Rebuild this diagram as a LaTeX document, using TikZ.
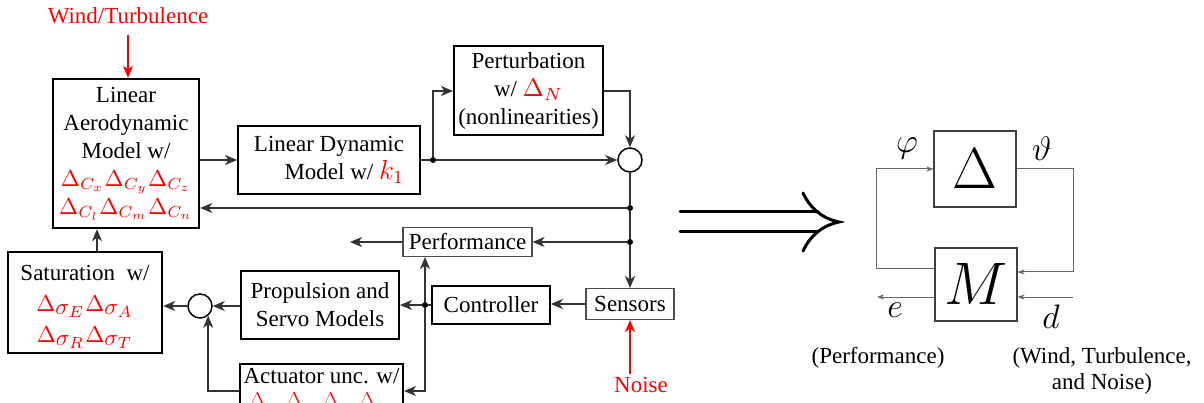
\RequirePackage{fix-cm}
\documentclass[tikz,border=0pt]{standalone}
\usepackage{fontspec}
\usepackage{graphicx}
\setmainfont{Liberation Serif}
\usetikzlibrary{arrows.meta}
\newcommand\mth[1]{\scalebox{2.3}{\fontsize{10}{12}\selectfont$#1$}}
\begin{document}
\begin{tikzpicture}[x=1pt,y=-1pt,
  every node/.style={font=\fontsize{23}{28}\selectfont},
  blk/.style={draw=black, line width=2pt, align=center, inner sep=0pt},
  thinblk/.style={draw=black!70, line width=1.1pt, align=center, inner sep=0pt},
  sumc/.style={circle, draw=black, line width=1.5pt, minimum size=24pt, inner sep=0pt},
  tip/.style={-{Stealth[length=12pt,width=10pt,inset=3.5pt]}},
  conn/.style={draw=black!80, line width=1.4pt, tip},
  wire/.style={draw=black!80, line width=1.4pt},
  jdot/.style={circle, fill=black, inner sep=0pt, minimum size=6pt},
  dist/.style={draw=red, line width=1.5pt, -{Stealth[length=12pt,width=10pt,inset=3.5pt]}},
  rblk/.style={draw=black!75, line width=1.1pt, inner sep=0pt},
  rconn/.style={draw=black!60, line width=1pt, -{Stealth[length=7pt,width=5pt,inset=2pt]}},
  dbl/.style={draw=black, line width=3pt, line cap=round}
]
\clip (0,0) rectangle (1204,403);
\fill[white] (0,0) rectangle (1204,403);

% ---- blocks ----
\node[blk, line width=2.4pt, minimum width=146pt, minimum height=149pt] (aero) at (126,153.5)
  {Linear\\Aerodynamic\\Model w/\\\textcolor{red}{\mth{\Delta_{C_x}\Delta_{C_y}\Delta_{C_z}}}\\\textcolor{red}{\mth{\Delta_{C_l}\Delta_{C_m}\Delta_{C_n}}}};
\node[blk, align=right, minimum width=182pt, minimum height=68pt] (ld) at (329,160)
  {Linear Dynamic\\Model w/ \textcolor{red}{\scalebox{2.3}{\fontsize{12}{14}\selectfont$k_1$}}};
\node[blk, minimum width=149pt, minimum height=89pt] (pert) at (528.5,91)
  {Perturbation\\w/ \textcolor{red}{\scalebox{2.3}{\fontsize{11}{13}\selectfont$\Delta_N$}}\\(nonlinearities)};
\node[sumc] (sum1) at (630,160) {};
\node[thinblk, minimum width=129pt, minimum height=29pt] (perf) at (467.5,242) {Performance};
\node[thinblk, minimum width=88pt, minimum height=31pt] (sens) at (630,304) {Sensors};
\node[blk, line width=1.6pt, minimum width=118pt, minimum height=38pt] (ctrl) at (491,305) {Controller};
\node[blk, minimum width=158pt, minimum height=68pt] (prop) at (320,305) {Propulsion and\\Servo Models};
\node[sumc] (sum2) at (200,306) {};
\node[blk, line width=2.4pt, minimum width=154pt, minimum height=101pt] (sat) at (85,302.5)
  {\rule{0pt}{24pt}Saturation\ \ w/\\[3pt]\textcolor{red}{\mth{\Delta_{\textstyle\sigma_E}\Delta_{\textstyle\sigma_A}}}\\[3pt]\textcolor{red}{\mth{\Delta_{\textstyle\sigma_R}\Delta_{\textstyle\sigma_T}}}};
\node[blk, anchor=north, font=\fontsize{23}{25}\selectfont, inner ysep=4pt, minimum width=163pt] (act) at (321.5,363)
  {Actuator unc. w/\\\textcolor{red}{$\Delta_{\sigma_E}\Delta_{\sigma_A}\Delta_{\sigma_R}\Delta_{\sigma_T}$}};

% ---- junctions ----
\node[jdot] (j1) at (433,160) {};
\node[jdot] (j2) at (630,208) {};
\node[jdot] (j3) at (630,242) {};
\node[jdot] (j4) at (425,305) {};

% ---- texts ----
\node[text=red] (wind) at (128,16) {Wind/Turbulence};
\node[text=red] (noise) at (641,385) {Noise};

% ---- connectors ----
\coordinate (windtop) at (128,35);
\draw[dist] (windtop) -- (windtop |- aero.north);
\draw[conn] (aero.east |- ld.west) -- (ld.west);
\draw[wire] (ld.east) -- (j1);
\draw[conn] (j1) -- (sum1.west);
\draw[conn] (j1) |- (pert.west);
\draw[conn] (pert.east) -| (sum1.north);
\draw[wire] (sum1.south) -- (j2);
\draw[wire] (j2) -- (j3);
\draw[conn] (j3) -- (sens.north);
\draw[conn] (j2) -- (aero.east |- j2);
\draw[conn] (j3) -- (perf.east);
\coordinate (perfout) at (350,242);
\draw[conn] (perf.west) -- (perfout);
\draw[conn] (sens.west) -- (ctrl.east |- sens.west);
\draw[wire] (ctrl.west |- j4) -- (j4);
\draw[conn] (j4) -- (prop.east |- j4);
\draw[conn] (j4) -- (j4 |- perf.south);
\draw[conn] (j4) |- (act.east);
\draw[conn] (prop.west |- sum2) -- (sum2.east);
\draw[conn] (sum2.west) -- (sat.east |- sum2);
\draw[conn] (act.west) -| (sum2.-50);
\coordinate (satup) at ([xshift=12pt]sat.north);
\draw[conn] (satup) -- (satup |- aero.south);
\draw[dist] (sens.south |- noise.north) -- (sens.south);

% ---- double arrow ----
\draw[dbl] (680,212) -- (818,212);
\draw[dbl] (680,232) -- (818,232);
\draw[dbl] (803,193) .. controls (809,206) and (820,218) .. (839,222)
               .. controls (820,226) and (809,238) .. (803,251);

% ---- M-Delta structure ----
\node[rblk, minimum width=82pt, minimum height=76pt] (Dl) at (975,169) {\fontsize{58}{58}\selectfont$\Delta$};
\node[rblk, minimum width=82pt, minimum height=73pt] (M) at (976,284.5) {\fontsize{60}{60}\selectfont$M$};
\draw[rconn] ([yshift=15.5pt]M.west) -- ++(-58,0) |- (Dl.west);
\draw[rconn] (Dl.east) -- ++(57,0) |- ([yshift=12.5pt]M.east);
\coordinate (din) at (1073,297);
\draw[rconn] (din) -- (M.east |- din);
\coordinate (eout) at (877,297);
\draw[rconn] (M.west |- eout) -- (eout);

\node (phi) at (907,148) {\fontsize{34}{34}\selectfont$\varphi$};
\node (vth) at (1042,149) {\fontsize{34}{34}\selectfont$\vartheta$};
\node (elab) at (895,310) {\fontsize{34}{34}\selectfont$e$};
\node (dlab) at (1051,317) {\fontsize{34}{34}\selectfont$d$};
\node (perflab) at (878,358) {(Performance)};
\node[align=center, font=\fontsize{23}{26}\selectfont] (distlab) at (1102,371) {(Wind, Turbulence,\\and Noise)};
\end{tikzpicture}
\end{document}
